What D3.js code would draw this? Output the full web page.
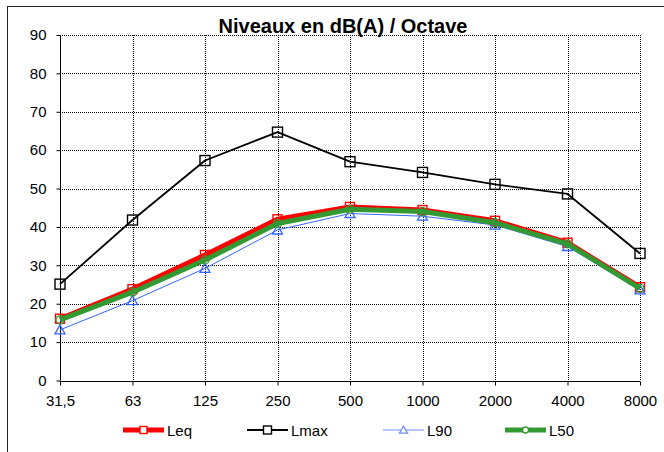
<!DOCTYPE html>
<html>
<head>
<meta charset="utf-8">
<script src="https://cdn.jsdelivr.net/npm/d3@7"></script>
<style>
  html, body { margin: 0; padding: 0; background: #fff; }
  svg { display: block; font-family: Arial, "Liberation Sans", sans-serif; }
</style>
</head>
<body>
<svg id="chart" width="664" height="452"></svg>
<script>
// Octave bands (Hz) and measured levels in dB(A)
const bands = ["31,5", "63", "125", "250", "500", "1000", "2000", "4000", "8000"];
const leq  = [16.1, 23.8, 32.7, 42.0, 45.2, 44.4, 41.6, 35.9, 24.3];
const lmax = [25.1, 41.8, 57.3, 64.7, 57.0, 54.2, 51.1, 48.6, 33.1];
const l90  = [13.2, 20.8, 29.2, 39.2, 43.5, 42.8, 40.5, 34.9, 23.6];
const l50  = [15.8, 23.0, 31.4, 40.9, 44.6, 44.0, 41.1, 35.6, 24.0];
const yTicks = [0, 10, 20, 30, 40, 50, 60, 70, 80, 90];
const title = "Niveaux en dB(A) / Octave";

const series = [
  { name: "Leq",  values: leq,  color: "#ff0000", width: 5,   marker: "square",   size: 9,  legendColor: "#ff0000" },
  { name: "Lmax", values: lmax, color: "#000000", width: 1.8, marker: "square",   size: 10, legendColor: "#000000" },
  { name: "L90",  values: l90,  color: "#3366ff", width: 1,   marker: "triangle", size: 10, legendColor: "#6f8fff" },
  { name: "L50",  values: l50,  color: "#339933", width: 5,   marker: "circle",   size: 8,  legendColor: "#339933" }
];

const svg = d3.select("#chart");
const plotLeft = 60, plotRight = 640, plotTop = 35, plotBottom = 380.5;

const x = d3.scalePoint().domain(bands).range([plotLeft, plotRight]);
const y = d3.scaleLinear().domain([0, 90]).range([plotBottom, plotTop]);

// Outer chart frame
svg.append("rect")
  .attr("x", 7.5).attr("y", 6.5).attr("width", 700).attr("height", 500)
  .attr("fill", "none").attr("stroke", "#222").attr("stroke-width", 1);

// Dotted gridlines
const grid = svg.append("g").attr("stroke", "#000").attr("stroke-width", 1)
  .attr("stroke-dasharray", "1,1").attr("fill", "none");
yTicks.filter(v => v > 0).forEach(v => {
  grid.append("line").attr("x1", plotLeft).attr("x2", plotRight)
    .attr("y1", Math.round(y(v)) + 0.5).attr("y2", Math.round(y(v)) + 0.5);
});
bands.slice(1).forEach(b => {
  grid.append("line").attr("x1", Math.round(x(b)) + 0.5).attr("x2", Math.round(x(b)) + 0.5)
    .attr("y1", plotTop).attr("y2", plotBottom);
});

// Axes
const yAxis = svg.append("g")
  .attr("transform", `translate(${plotLeft + 0.5},0)`)
  .call(d3.axisLeft(y).tickValues(yTicks).tickSize(4).tickPadding(10).tickFormat(d3.format("d")));
yAxis.select(".domain").attr("stroke", "#000").attr("d", `M0,${plotTop}V${plotBottom}`);
yAxis.selectAll("text").attr("font-size", 15).attr("fill", "#000")
  .attr("font-family", "Arial, 'Liberation Sans', sans-serif");

const xAxis = svg.append("g")
  .attr("transform", `translate(0,${Math.round(plotBottom) + 0.5})`)
  .call(d3.axisBottom(x).tickSize(4).tickPadding(10));
xAxis.select(".domain").attr("stroke", "#000").attr("d", `M${plotLeft},0H${plotRight}`);
xAxis.selectAll("text").attr("font-size", 15).attr("fill", "#000")
  .attr("font-family", "Arial, 'Liberation Sans', sans-serif");

// Marker drawing helper
function drawMarker(g, type, cx, cy, size, color, fill) {
  const h = size / 2;
  if (type === "square") {
    g.append("rect").attr("x", cx - h).attr("y", cy - h).attr("width", size).attr("height", size)
      .attr("fill", fill).attr("stroke", color).attr("stroke-width", 1.4);
  } else if (type === "triangle") {
    g.append("path")
      .attr("d", `M${cx},${cy - h}L${cx + h},${cy + h * 0.8}L${cx - h},${cy + h * 0.8}Z`)
      .attr("fill", fill).attr("stroke", color).attr("stroke-width", 1.3);
  } else {
    g.append("circle").attr("cx", cx).attr("cy", cy).attr("r", h)
      .attr("fill", fill).attr("stroke", color).attr("stroke-width", 1.3);
  }
}

// Series lines and markers
const line = d3.line().x((d, i) => x(bands[i])).y(d => y(d));
series.forEach(s => {
  const g = svg.append("g");
  g.append("path").datum(s.values).attr("d", line)
    .attr("fill", "none").attr("stroke", s.color).attr("stroke-width", s.width)
    .attr("stroke-linejoin", "round");
  s.values.forEach((v, i) => drawMarker(g, s.marker, x(bands[i]), y(v), s.size, s.color, "none"));
});

// Title
svg.append("text")
  .attr("x", 343).attr("y", 33)
  .attr("text-anchor", "middle")
  .attr("font-size", 20).attr("font-weight", "bold")
  .text(title);

// Legend
const legendX = [123, 247, 383, 505];
const legendY = 430;
series.forEach((s, i) => {
  const g = svg.append("g");
  const x0 = legendX[i], x1 = x0 + 41;
  g.append("line").attr("x1", x0).attr("x2", x1).attr("y1", legendY).attr("y2", legendY)
    .attr("stroke", s.legendColor).attr("stroke-width", s.width);
  drawMarker(g, s.marker, (x0 + x1) / 2, legendY, s.size - 2, s.legendColor, "#fff");
  g.append("text").attr("x", x1 + 3).attr("y", legendY + 5.5)
    .attr("font-size", 15).text(s.name);
});
</script>
</body>
</html>
